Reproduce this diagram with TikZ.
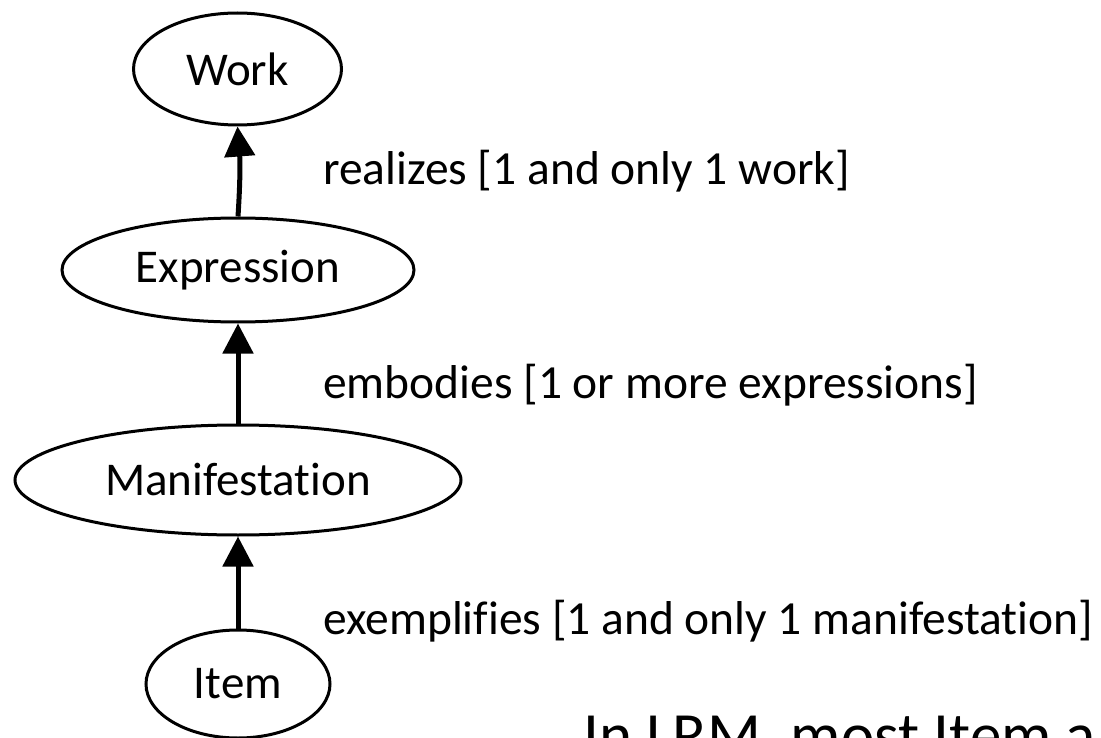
\documentclass[tikz,border=0pt]{standalone}
\usepackage{fontspec}
\setmainfont{Carlito}[RawFeature={-liga}]
\usetikzlibrary{shapes.geometric,arrows.meta}
\begin{document}
\begin{tikzpicture}[x=1pt,y=-1pt,
  ent/.style={ellipse,draw=black,line width=3pt,inner sep=0pt,font=\fontsize{47}{52}\selectfont},
  rel/.style={-{Triangle[length=30pt,width=30pt]},line width=5pt},
  lbl/.style={anchor=base west,inner sep=0pt,font=\fontsize{47.5}{52}\selectfont}]
\clip (0,0) rectangle (1101,738);
\useasboundingbox (0,0) rectangle (1101,738);
\node[ent,minimum width=208pt,minimum height=112pt] (work) at (237.5,69) {Work};
\node[ent,minimum width=352pt,minimum height=104pt] (expr) at (238,270) {Expression};
\node[ent,minimum width=446pt,minimum height=110pt] (man) at (238,480) {Manifestation};
\node[ent,minimum width=184pt,minimum height=108pt] (item) at (238,684) {Item};
\draw[rel] (expr.north) to[bend right=4] (work.south);
\draw[rel] (man.north) -- (expr.south);
\draw[rel] (item.north) -- (man.south);
\node[lbl] (l1) at (323,185) {realizes [1 and only 1 work]};
\node[lbl] (l2) at (323,398) {embodies [1 or more expressions]};
\node[lbl] (l3) at (323,634) {exemplifies [1 and only 1 manifestation]};
\node[anchor=base west,inner sep=0pt,font=\fontsize{63}{70}\selectfont] (note) at (583,756) {In LRM, most Item a};
\end{tikzpicture}
\end{document}
